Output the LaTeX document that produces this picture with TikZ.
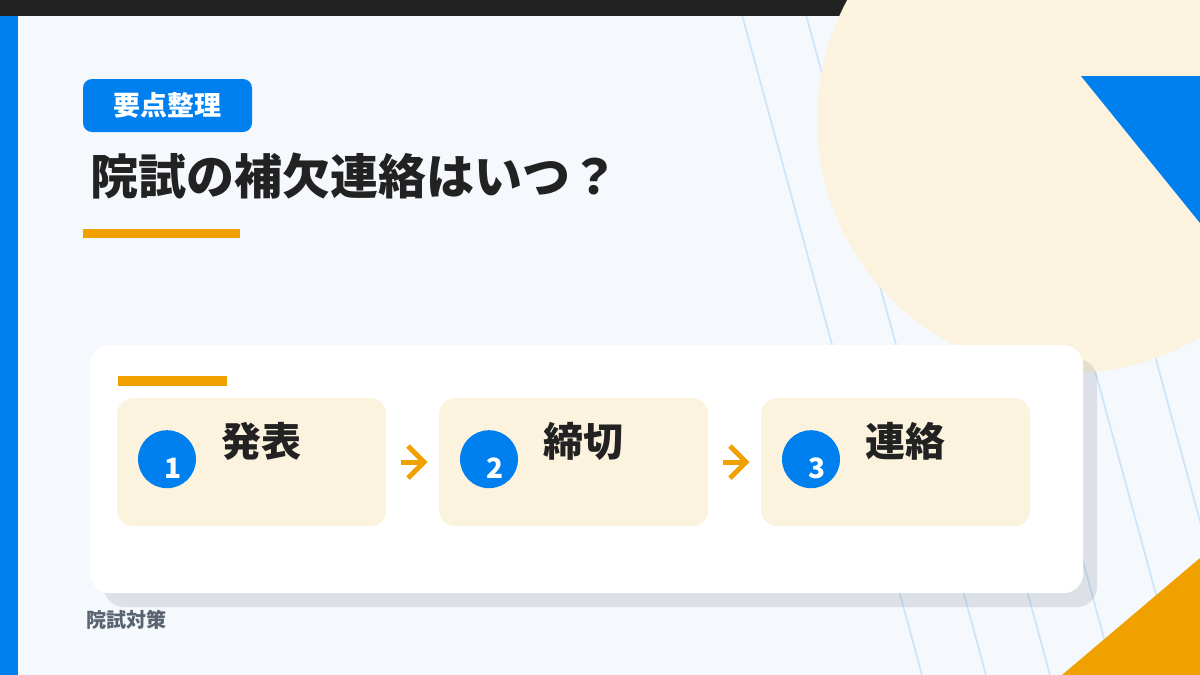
\documentclass[tikz,border=0pt]{standalone}
\usepackage{fontspec}
\setmainfont{Noto Sans CJK JP}
\usetikzlibrary{calc}
\definecolor{bgc}{RGB}{245,248,252}
\definecolor{darkc}{RGB}{34,34,34}
\definecolor{bluec}{RGB}{0,128,238}
\definecolor{orangec}{RGB}{240,161,0}
\definecolor{beigec}{RGB}{252,243,223}
\definecolor{linec}{RGB}{206,228,248}
\definecolor{grayc}{RGB}{90,99,112}
\definecolor{shadowc}{RGB}{51,65,85}
\tikzset{
  gridline/.style={draw=linec, line width=1.7pt},
  stepbox/.style={fill=beigec, rounded corners=16pt, minimum width=269pt, minimum height=128pt, anchor=north west, inner sep=0pt},
  numcirc/.style={circle, fill=bluec, minimum size=58pt, inner sep=0pt},
  numtext/.style={text=white, font=\fontsize{28}{28}\selectfont\bfseries, inner sep=0pt},
  steplabel/.style={text=darkc, font=\fontsize{40}{40}\selectfont\bfseries, anchor=west, inner sep=0pt},
  arr/.style={draw=orangec, line width=5pt},
}
\begin{document}
\begin{tikzpicture}[x=1pt,y=-1pt]
\useasboundingbox (0,0) rectangle (1200,675);
\fill[bgc] (0,0) rectangle (1200,675);
% diagonal lines
\foreach \x in {738,802,866,930,994,1058,1122}
  \draw[gridline] (\x,0) -- (\x+184,675);
% top bar
\fill[darkc] (0,0) rectangle (1200,16);
% beige circle
\fill[beigec] (1070,120) circle[radius=253pt];
% blue triangle
\fill[bluec] (1081,76) -- (1200,76) -- (1200,223) -- cycle;
% orange triangle
\fill[orangec] (1062,675) -- (1200,558) -- (1200,675) -- cycle;
% left blue bar
\fill[bluec] (0,16) rectangle (18,675);
% tag
\node[fill=bluec, rounded corners=9pt, minimum width=169pt, minimum height=53pt, inner sep=0pt,
      text=white, font=\fontsize{27}{27}\selectfont\bfseries] (tag) at (167.5,105.5) {要点整理};
% title
\node[anchor=west, inner sep=0pt, text=darkc, font=\fontsize{48}{48}\selectfont\bfseries] (title) at (90,176) {院試の補欠連絡はいつ？};
\fill[orangec] (83,229) rectangle (240,238);
% card shadow and card
\fill[shadowc, opacity=0.12, rounded corners=20pt] (104,359) rectangle (1097,607);
\node[fill=white, rounded corners=20pt, minimum width=993pt, minimum height=248pt, anchor=north west, inner sep=0pt] (card) at (90,345) {};
\fill[orangec] (118,376) rectangle (227,386);
% steps
\node[stepbox] (b1) at (117,398) {};
\node[stepbox] (b2) at (439,398) {};
\node[stepbox] (b3) at (761,398) {};
\foreach \b/\n/\t in {b1/1/発表, b2/2/締切, b3/3/連絡}{
  \node[numcirc] (c\n) at ($(\b.west)+(50,-3)$) {};
  \node[numtext] (n\n) at ($(c\n)+(6,9)$) {\n};
  \node[steplabel] (l\n) at ($(\b.west)+(104,-21)$) {\t};
}
% arrows
\draw[arr] ($(b1.east)+(15,0)$) -- ($(b2.west)+(-17,0)$);
\draw[arr] ($(b2.west)+(-31,-16)$) -- ($(b2.west)+(-15,0)$) -- ($(b2.west)+(-31,16)$);
\draw[arr] ($(b2.east)+(15,0)$) -- ($(b3.west)+(-17,0)$);
\draw[arr] ($(b3.west)+(-31,-16)$) -- ($(b3.west)+(-15,0)$) -- ($(b3.west)+(-31,16)$);
% footer
\node[anchor=west, inner sep=0pt, text=grayc, font=\fontsize{20}{20}\selectfont\bfseries] (footer) at (86,620) {院試対策};
\end{tikzpicture}
\end{document}
